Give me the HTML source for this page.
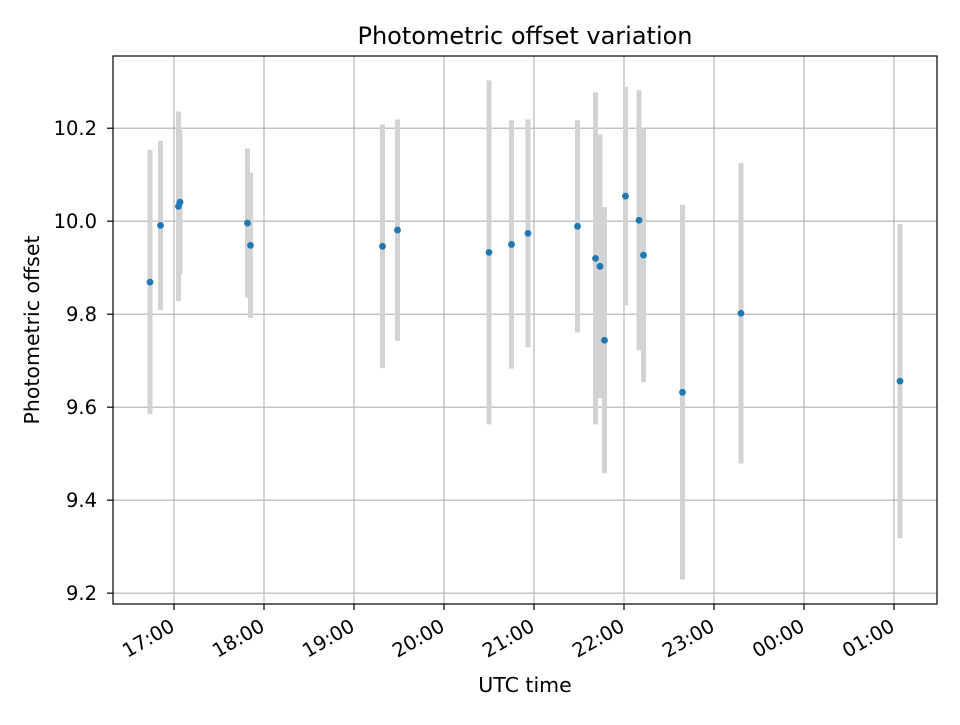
<!DOCTYPE html>
<html><head><meta charset="utf-8"><style>
html,body{margin:0;padding:0;background:#fff;}
svg text{font-family:"DejaVu Sans","Liberation Sans",sans-serif;fill:#000;}
</style></head><body>
<svg id="chart" width="960" height="720" xmlns="http://www.w3.org/2000/svg">
<rect x="0" y="0" width="960" height="720" fill="#fff"/>
<g id="grid"></g>
<g id="errbars"></g>
<g id="points"></g>
<g id="axes"></g>
<text x="525" y="44" font-size="24" text-anchor="middle">Photometric offset variation</text>
<text x="525" y="692" font-size="20.5" text-anchor="middle">UTC time</text>
<text x="0" y="0" font-size="20.5" text-anchor="middle" transform="translate(39,330) rotate(-90)">Photometric offset</text>
</svg>
<script>
const times = ["16:44","16:51","17:04","17:03","17:49","17:51","19:19","19:29","20:30","20:45","20:56","21:29","21:41","21:44","21:47","22:01","22:10","22:13","22:39","23:18","01:04"];
const offsets = [9.869,9.991,10.041,10.032,9.996,9.948,9.946,9.981,9.933,9.950,9.974,9.989,9.920,9.903,9.744,10.054,10.002,9.927,9.632,9.802,9.656];
const errors = [0.284,0.182,0.155,0.204,0.160,0.156,0.262,0.238,0.370,0.267,0.245,0.228,0.357,0.284,0.286,0.235,0.280,0.273,0.403,0.323,0.338];
const xTickLabels = ["17:00","18:00","19:00","20:00","21:00","22:00","23:00","00:00","01:00"];
const yTickValues = [9.2,9.4,9.6,9.8,10.0,10.2];

const NS="http://www.w3.org/2000/svg";
const L=113,R=937,T=56,B=604;
function toMin(s){const p=s.split(":");let m=(+p[0])*60+(+p[1])-17*60;if(m<-360)m+=1440;return m;}
const xMin=-40.67,xMax=508.67;
function xs(m){return L+(m-xMin)/(xMax-xMin)*(R-L);}
const yMin=9.1767,yMax=10.3553;
function ys(v){return B-(v-yMin)/(yMax-yMin)*(B-T);}
function mk(tag,attrs,parent){const e=document.createElementNS(NS,tag);for(const k in attrs)e.setAttribute(k,attrs[k]);parent.appendChild(e);return e;}
const grid=document.getElementById('grid'),axes=document.getElementById('axes'),eb=document.getElementById('errbars'),pts=document.getElementById('points');
xTickLabels.forEach(function(lab){
  const x=xs(toMin(lab));
  const g=mk('line',{x1:x,x2:x,y1:T,y2:B,stroke:'#b0b0b0','stroke-width':1.1},grid);
  
  
  const t=mk('line',{x1:x,x2:x,y1:B,y2:B+6,stroke:'#000','stroke-width':1.2},axes);
  
  
  const tx=mk('text',{x:0,y:0,'font-size':19.5,'text-anchor':'end',transform:'translate('+(x+2)+','+(B+26)+') rotate(-30)'},axes);
  tx.textContent=lab;
  
  
});
yTickValues.forEach(function(v){
  const y=ys(v);
  const g=mk('line',{x1:L,x2:R,y1:y,y2:y,stroke:'#b0b0b0','stroke-width':1.1},grid);
  
  
  const t=mk('line',{x1:L-6,x2:L,y1:y,y2:y,stroke:'#000','stroke-width':1.2},axes);
  
  
  const tx=mk('text',{x:L-16,y:y+7,'font-size':19.5,'text-anchor':'end'},axes);
  tx.textContent=v.toFixed(1);
  
  
});
const frame=mk('rect',{x:L,y:T,width:R-L,height:B-T,fill:'none',stroke:'#000','stroke-width':1.2},axes);


times.forEach(function(t,i){
  const x=xs(toMin(t));
  const l=mk('line',{x1:x,x2:x,y1:ys(offsets[i]+errors[i]),y2:ys(offsets[i]-errors[i]),stroke:'#d3d3d3','stroke-width':5},eb);
  
  
});
times.forEach(function(t,i){
  const c=mk('circle',{cx:xs(toMin(t)),cy:ys(offsets[i]),r:3.4,fill:'#1f77b4'},pts);
  
  
});
</script>
</body></html>
